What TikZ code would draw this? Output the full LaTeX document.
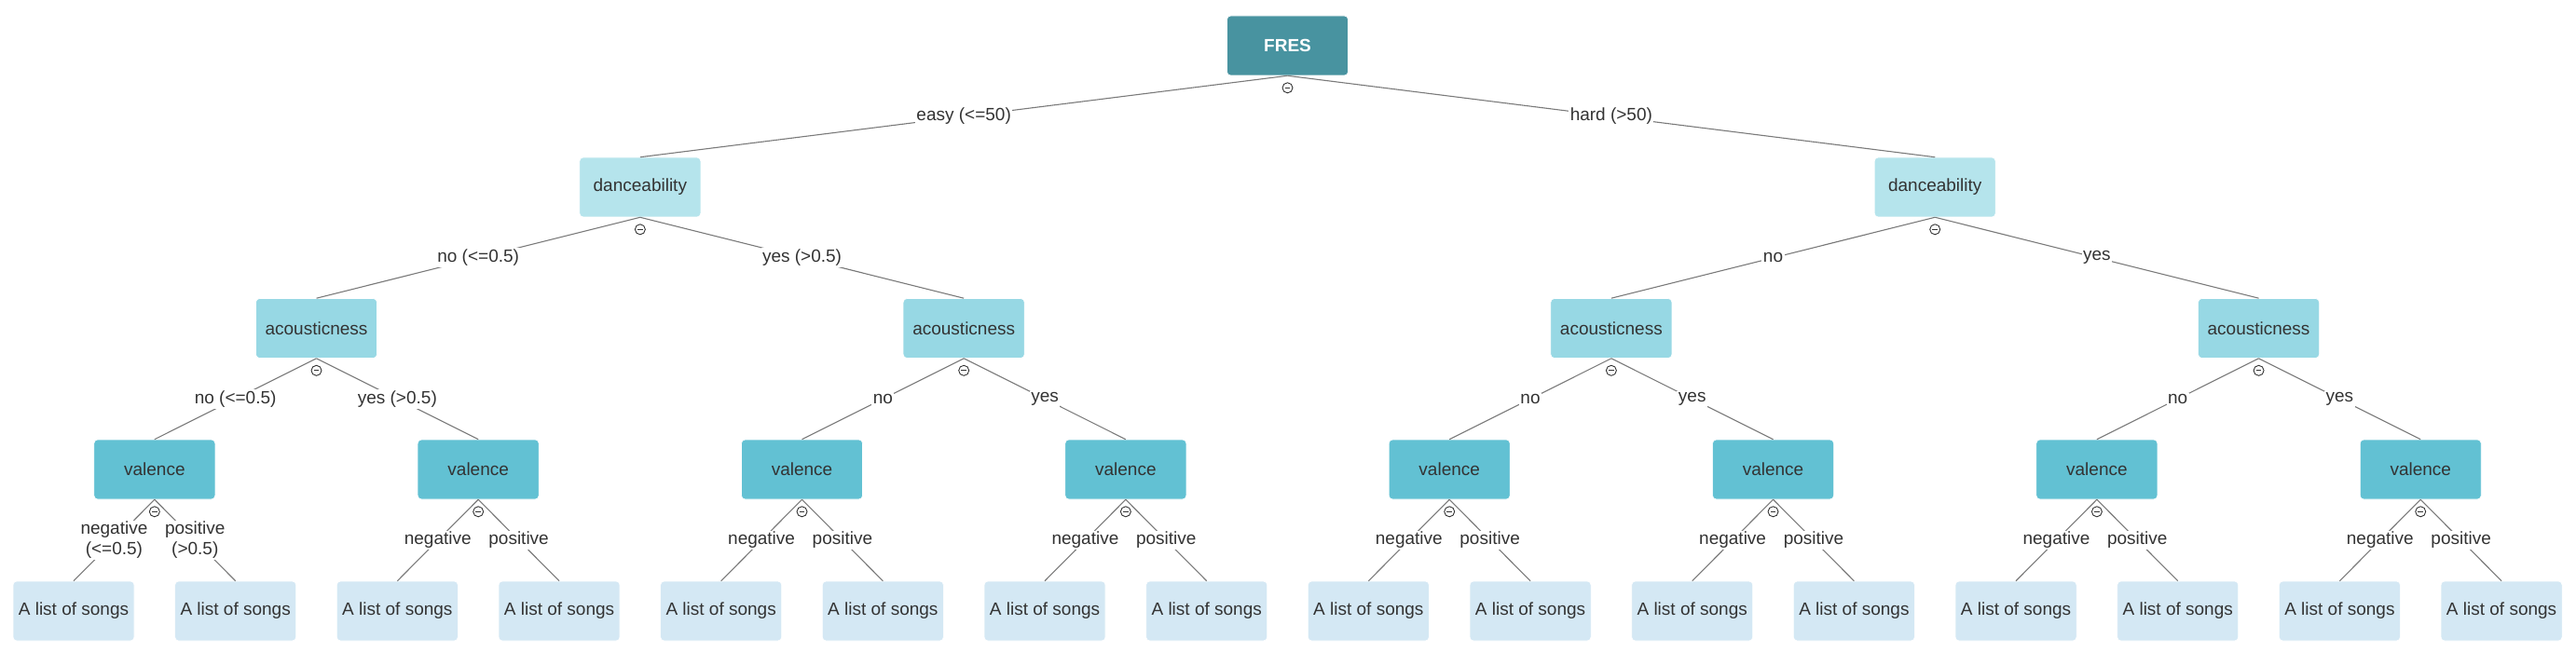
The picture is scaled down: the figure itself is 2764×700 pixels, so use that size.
\documentclass[tikz,border=0pt]{standalone}
\usepackage{fontspec}
\setmainfont{Liberation Sans}
\definecolor{txt}{HTML}{333333}
\definecolor{cRoot}{HTML}{4893A0}
\definecolor{cDance}{HTML}{B5E4EC}
\definecolor{cAcou}{HTML}{97D8E4}
\definecolor{cVal}{HTML}{62C1D3}
\definecolor{cLeaf}{HTML}{D4E8F4}
\definecolor{edgec}{HTML}{7A7A7A}
\definecolor{icn}{HTML}{333333}
\begin{document}
\begin{tikzpicture}[x=1pt,y=-1pt,
  font=\fontsize{19}{22}\selectfont,
  box/.style={rectangle, rounded corners=4pt, minimum width=130pt, minimum height=64pt,
    inner sep=0pt, text=txt, draw=white, line width=0.6pt},
  rootbox/.style={box, fill=cRoot, text=white, font=\fontsize{19}{22}\selectfont\bfseries},
  dancebox/.style={box, fill=cDance},
  acoubox/.style={box, fill=cAcou},
  valbox/.style={box, fill=cVal},
  leafbox/.style={box, fill=cLeaf},
  link/.style={draw=edgec, line width=1.1pt},
  lab/.style={fill=white, inner sep=1.5pt, text=txt, align=center},
  iconc/.style={circle, draw=icn, fill=white, line width=0.9pt, minimum size=11pt, inner sep=0pt,
    path picture={\draw[line width=1pt, icn] ([xshift=-2.8pt]path picture bounding box.center) -- ([xshift=2.8pt]path picture bounding box.center);}}
]
\useasboundingbox (0,0) rectangle (2764,700);
\def\s{173.67}
% nodes
\node[rootbox] (R) at (1381.5,49) {FRES};
\foreach \m in {0,1}{
  \pgfmathsetmacro\xx{79+\s*(8*\m+3.5)}
  \node[dancebox] (D\m) at (\xx,201) {danceability};
}
\foreach \k in {0,...,3}{
  \pgfmathsetmacro\xx{79+\s*(4*\k+1.5)}
  \node[acoubox] (A\k) at (\xx,352.5) {acousticness};
}
\foreach \j in {0,...,7}{
  \pgfmathsetmacro\xx{79+\s*(2*\j+0.5)}
  \node[valbox] (V\j) at (\xx,504) {valence};
}
\foreach \i in {0,...,15}{
  \pgfmathsetmacro\xx{79+\s*\i}
  \node[leafbox] (L\i) at (\xx,656) {A list of songs};
}
% edges root -> dance
\draw[link] (R.south) -- node[lab] (eR0) {easy (<=50)} (D0.north);
\draw[link] (R.south) -- node[lab] (eR1) {hard (>50)} (D1.north);
% dance -> acoustic
\draw[link] (D0.south) -- node[lab] (eD0) {no (<=0.5)} (A0.north);
\draw[link] (D0.south) -- node[lab] (eD1) {yes (>0.5)} (A1.north);
\draw[link] (D1.south) -- node[lab] (eD2) {no} (A2.north);
\draw[link] (D1.south) -- node[lab] (eD3) {yes} (A3.north);
% acoustic -> valence
\draw[link] (A0.south) -- node[lab] (eA0) {no (<=0.5)} (V0.north);
\draw[link] (A0.south) -- node[lab] (eA1) {yes (>0.5)} (V1.north);
\foreach \k in {1,2,3}{
  \pgfmathtruncatemacro\a{2*\k}
  \pgfmathtruncatemacro\b{2*\k+1}
  \draw[link] (A\k.south) -- node[lab] (eA\a) {no} (V\a.north);
  \draw[link] (A\k.south) -- node[lab] (eA\b) {yes} (V\b.north);
}
% valence -> leaves
\draw[link] (V0.south) -- node[lab] (eV0) {negative\\(<=0.5)} (L0.north);
\draw[link] (V0.south) -- node[lab] (eV1) {positive\\(>0.5)} (L1.north);
\foreach \j in {1,...,7}{
  \pgfmathtruncatemacro\a{2*\j}
  \pgfmathtruncatemacro\b{2*\j+1}
  \draw[link] (V\j.south) -- node[lab] (eV\a) {negative} (L\a.north);
  \draw[link] (V\j.south) -- node[lab] (eV\b) {positive} (L\b.north);
}
% collapse icons
\node[iconc] (iR) at ([yshift=-13pt]R.south) {};
\foreach \m in {0,1}{\node[iconc] (iD\m) at ([yshift=-13pt]D\m.south) {};}
\foreach \k in {0,...,3}{\node[iconc] (iA\k) at ([yshift=-13pt]A\k.south) {};}
\foreach \j in {0,...,7}{\node[iconc] (iV\j) at ([yshift=-13pt]V\j.south) {};}
\end{tikzpicture}
\end{document}
